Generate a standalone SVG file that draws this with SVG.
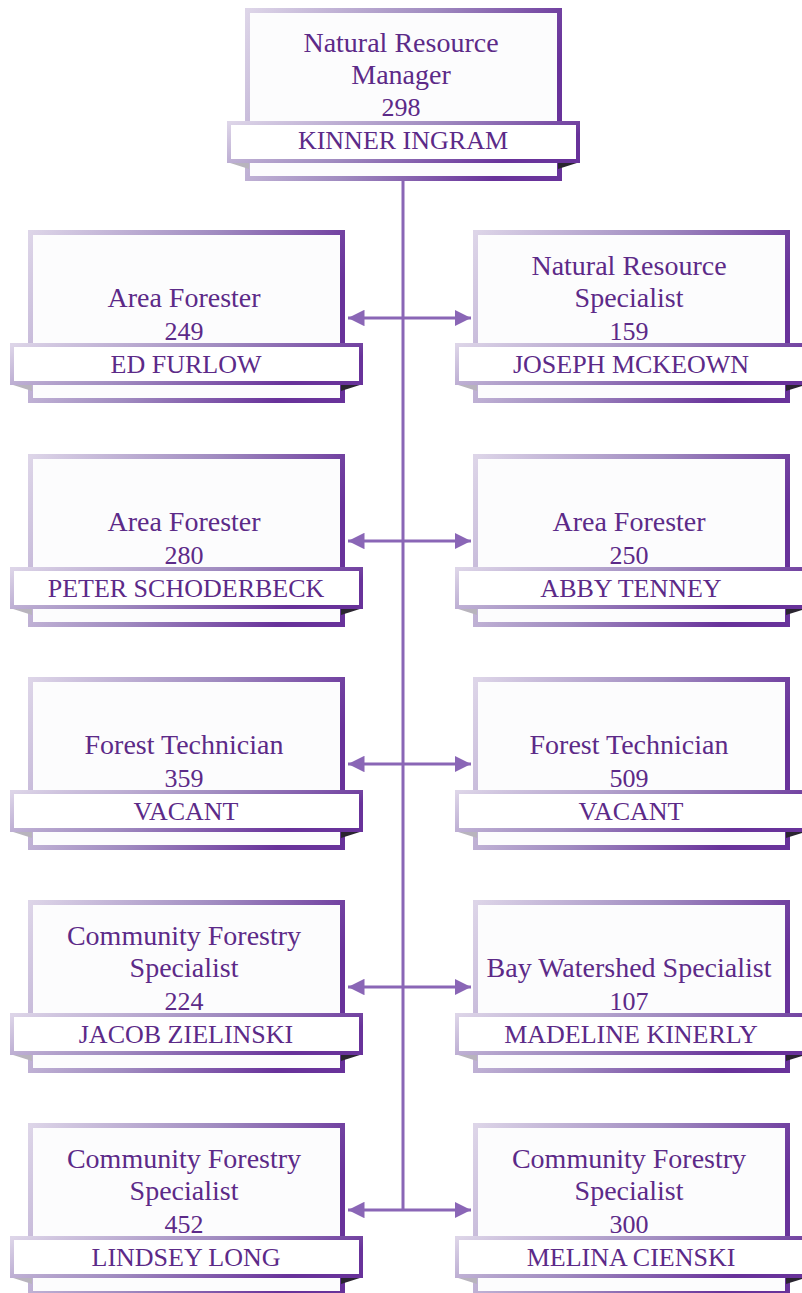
<svg xmlns="http://www.w3.org/2000/svg" width="802" height="1293" viewBox="0 0 802 1293">
<defs>
<linearGradient id="g" x1="0" y1="0" x2="1" y2="0.3">
<stop offset="0" stop-color="#ddd5e8"/>
<stop offset="0.55" stop-color="#a08bc0"/>
<stop offset="1" stop-color="#68329a"/>
</linearGradient>
<marker id="ah" viewBox="0 0 10 10" refX="10" refY="5" markerWidth="5.5" markerHeight="5.5" orient="auto-start-reverse" markerUnits="strokeWidth">
<path d="M0,0 L10,5 L0,10 z" fill="#8a66b6"/>
</marker>
<g id="card">
<rect x="2.5" y="2.5" width="312" height="168" fill="#fcfcfd" stroke="url(#g)" stroke-width="5"/>
<polygon points="-18,154 4,154 4,161" fill="#b8b4bd"/>
<polygon points="313,154 335,154 313,161" fill="#2a2530"/>
<rect x="-16" y="115" width="349" height="38" fill="#ffffff" stroke="url(#g)" stroke-width="4"/>
</g>
</defs>
<style>
text{font-family:"Liberation Serif","Times New Roman",serif;font-size:26px;fill:#5c2a88;text-anchor:middle}
.t{font-size:28px}
.ln{stroke:#8a66b6;stroke-width:3;fill:none}
</style>
<g id="connectors">
<line class="ln" x1="403" y1="180" x2="403" y2="1210"/>
<line class="ln" x1="348" y1="318" x2="471" y2="318" marker-start="url(#ah)" marker-end="url(#ah)"/>
<line class="ln" x1="348" y1="541" x2="471" y2="541" marker-start="url(#ah)" marker-end="url(#ah)"/>
<line class="ln" x1="348" y1="764" x2="471" y2="764" marker-start="url(#ah)" marker-end="url(#ah)"/>
<line class="ln" x1="348" y1="987" x2="471" y2="987" marker-start="url(#ah)" marker-end="url(#ah)"/>
<line class="ln" x1="348" y1="1210" x2="471" y2="1210" marker-start="url(#ah)" marker-end="url(#ah)"/>
</g>
<g id="n-top" transform="translate(245,8)">
<use href="#card"/>
<text class="t" x="156" y="44">Natural Resource</text>
<text class="t" x="156" y="76">Manager</text>
<text x="156" y="108">298</text>
<text x="158" y="141">KINNER INGRAM</text>
</g>
<g id="n-l1" transform="translate(28,230)">
<use href="#card"/>
<text class="t" x="156" y="77">Area Forester</text>
<text x="156" y="110">249</text>
<text x="158" y="143">ED FURLOW</text>
</g>
<g id="n-r1" transform="translate(473,230)">
<use href="#card"/>
<text class="t" x="156" y="45">Natural Resource</text>
<text class="t" x="156" y="77">Specialist</text>
<text x="156" y="110">159</text>
<text x="158" y="143">JOSEPH MCKEOWN</text>
</g>
<g id="n-l2" transform="translate(28,454)">
<use href="#card"/>
<text class="t" x="156" y="77">Area Forester</text>
<text x="156" y="110">280</text>
<text x="158" y="143">PETER SCHODERBECK</text>
</g>
<g id="n-r2" transform="translate(473,454)">
<use href="#card"/>
<text class="t" x="156" y="77">Area Forester</text>
<text x="156" y="110">250</text>
<text x="158" y="143">ABBY TENNEY</text>
</g>
<g id="n-l3" transform="translate(28,677)">
<use href="#card"/>
<text class="t" x="156" y="77">Forest Technician</text>
<text x="156" y="110">359</text>
<text x="158" y="143">VACANT</text>
</g>
<g id="n-r3" transform="translate(473,677)">
<use href="#card"/>
<text class="t" x="156" y="77">Forest Technician</text>
<text x="156" y="110">509</text>
<text x="158" y="143">VACANT</text>
</g>
<g id="n-l4" transform="translate(28,900)">
<use href="#card"/>
<text class="t" x="156" y="45">Community Forestry</text>
<text class="t" x="156" y="77">Specialist</text>
<text x="156" y="110">224</text>
<text x="158" y="143">JACOB ZIELINSKI</text>
</g>
<g id="n-r4" transform="translate(473,900)">
<use href="#card"/>
<text class="t" x="156" y="77">Bay Watershed Specialist</text>
<text x="156" y="110">107</text>
<text x="158" y="143">MADELINE KINERLY</text>
</g>
<g id="n-l5" transform="translate(28,1123)">
<use href="#card"/>
<text class="t" x="156" y="45">Community Forestry</text>
<text class="t" x="156" y="77">Specialist</text>
<text x="156" y="110">452</text>
<text x="158" y="143">LINDSEY LONG</text>
</g>
<g id="n-r5" transform="translate(473,1123)">
<use href="#card"/>
<text class="t" x="156" y="45">Community Forestry</text>
<text class="t" x="156" y="77">Specialist</text>
<text x="156" y="110">300</text>
<text x="158" y="143">MELINA CIENSKI</text>
</g>
</svg>
